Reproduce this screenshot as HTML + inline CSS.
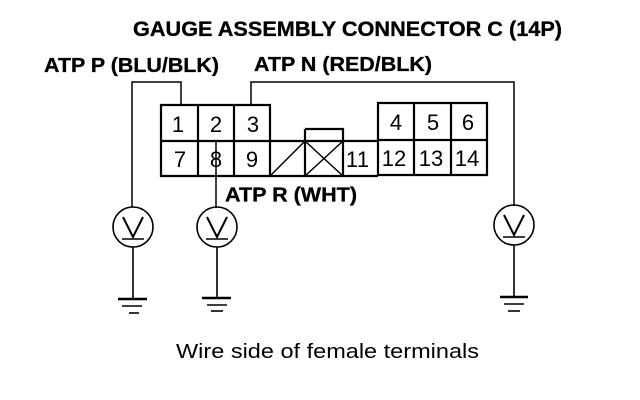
<!DOCTYPE html>
<html><head><meta charset="utf-8"><style>
html,body{margin:0;padding:0;background:#fff}
svg{display:block}
text{font-family:"Liberation Sans",sans-serif;fill:#000}
.b{font-weight:bold;font-size:20px;stroke:#000;stroke-width:.3}
.n{font-size:22px;text-anchor:middle}
</style></head><body>
<svg width="640" height="400" viewBox="0 0 640 400" xmlns="http://www.w3.org/2000/svg">
<rect width="640" height="400" fill="#fff"/>
<text class="b" x="133" y="36" style="font-size:21px" textLength="429" lengthAdjust="spacingAndGlyphs">GAUGE ASSEMBLY CONNECTOR C (14P)</text>
<text class="b" x="44" y="72" textLength="175" lengthAdjust="spacingAndGlyphs">ATP P (BLU/BLK)</text>
<text class="b" x="254" y="71" textLength="178" lengthAdjust="spacingAndGlyphs">ATP N (RED/BLK)</text>
<text class="b" x="225" y="201.5" textLength="132" lengthAdjust="spacingAndGlyphs">ATP R (WHT)</text>
<text x="176" y="358" font-size="20" textLength="303" lengthAdjust="spacingAndGlyphs">Wire side of female terminals</text>

<g fill="none" stroke="#000" stroke-width="1.5">
<path d="M132 207V82H181V105"/>
<path d="M251 105V82H514V206"/>
<path d="M216 141V208"/>
</g>
<g fill="none" stroke="#000" stroke-width="2.2">
<path d="M161 105H270V176H161Z"/>
<path d="M161 141H378"/>
<path d="M198 105V176M234 105V176"/>
<path d="M270 176H378M305 129H343V176M305 129V176"/>
<path d="M378 175V103H487V175H378Z"/>
<path d="M378 140H487M414 103V175M451 103V175"/>
</g>
<g fill="none" stroke="#000" stroke-width="1.5">
<path d="M270 176L305 141M305 141L343 176M305 176L343 141"/>
</g>
<g>
<text class="n" x="178" y="132">1</text><text class="n" x="216" y="132">2</text><text class="n" x="253" y="132">3</text>
<text class="n" x="180" y="167">7</text><text class="n" x="216" y="167">8</text><text class="n" x="252" y="167">9</text>
<text class="n" x="396" y="130">4</text><text class="n" x="433" y="130">5</text><text class="n" x="468" y="130">6</text>
<text class="n" x="352" y="167">1</text><text class="n" x="363" y="167">1</text><text class="n" x="394" y="166">12</text><text class="n" x="431" y="166">13</text><text class="n" x="467" y="166">14</text>
</g>

<g fill="none" stroke="#000" stroke-width="1.6">
<circle cx="133" cy="227" r="20"/>
<path d="M123 217L133 237L143 217" stroke-width="2"/>
<path d="M122 239H144M133 247V298"/>
<path d="M118 299H147" stroke-width="2.4"/><path d="M122 306H142"/><path d="M129 313H139"/>

<circle cx="217" cy="227" r="20"/>
<path d="M207 217L217 237L227 217" stroke-width="2"/>
<path d="M206 239H228M217 247V297"/>
<path d="M202 298H231" stroke-width="2.4"/><path d="M207 305H227"/><path d="M211 311H223"/>

<circle cx="514" cy="225" r="20"/>
<path d="M504 215L514 235L524 215" stroke-width="2"/>
<path d="M503 237H525M514 245V296"/>
<path d="M500 297H528" stroke-width="2.4"/><path d="M504 304H524"/><path d="M508 311H520"/>
</g>
</svg>
</body></html>
